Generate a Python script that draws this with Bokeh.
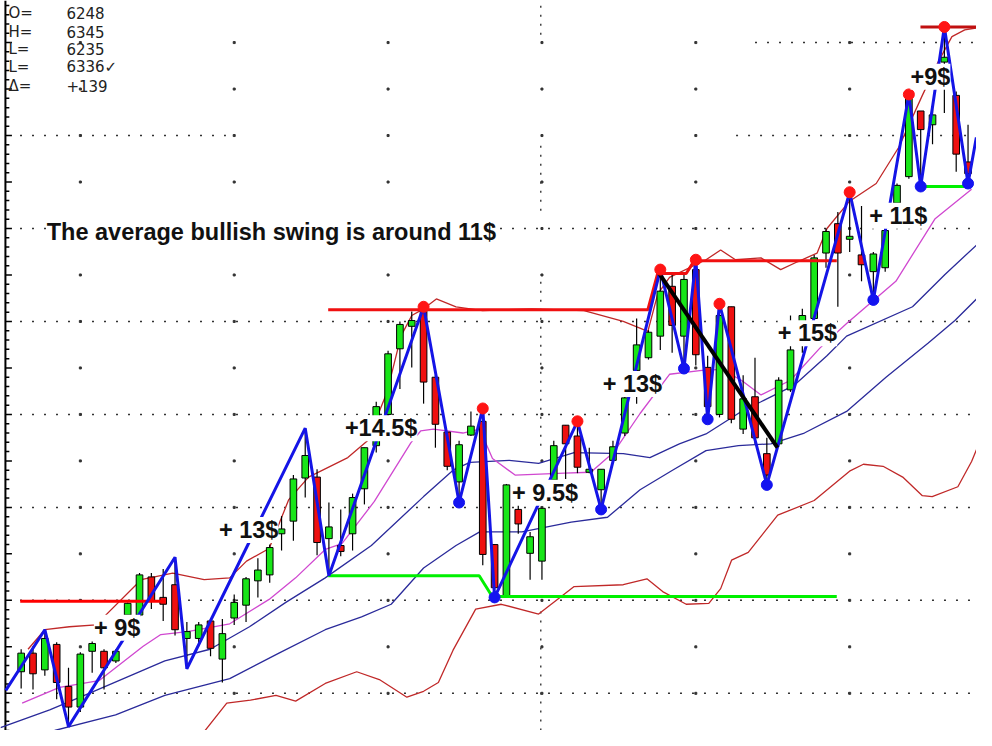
import numpy as np
from bokeh.plotting import figure
from bokeh.models import Range1d, Label
from bokeh.embed import file_html
from bokeh.resources import INLINE

# ---------------- data (bar index 0..80, price in $) ----------------
opens = [41.16, 42.16, 41.26, 42.63, 40.37, 39.26, 42.26, 42.26, 41.74, 44.21,
         44.21, 46.26, 45.16, 45.84, 42.95, 42.95, 43.89, 41.84, 44.05, 44.74,
         46.05, 46.37, 48.58, 49.26, 51.58, 51.63, 48.32, 47.95, 48.58, 51.0,
         53.32, 55.0, 58.53, 59.74, 60.58, 57.0, 54.05, 51.37, 53.89, 54.63,
         48.0, 45.26, 49.89, 47.53, 47.11, 51.47, 54.42, 53.84, 51.89, 50.95,
         52.53, 54.0, 57.37, 58.05, 59.21, 61.89, 59.21, 62.79, 57.53, 55.0,
         60.79, 54.21, 55.95, 52.89, 53.42, 56.32, 59.11, 60.16, 63.68, 65.26,
         64.42, 63.58, 62.68, 62.89, 66.37, 67.79, 71.32, 70.58, 73.95, 72.16,
         68.58]
highs = [42.37, 42.53, 43.42, 42.74, 41.37, 42.21, 42.79, 42.37, 42.37, 44.89,
         46.47, 46.47, 46.68, 47.32, 43.84, 43.84, 44.0, 44.0, 45.32, 46.26,
         47.26, 48.0, 49.53, 51.74, 54.26, 52.05, 50.26, 49.89, 50.74, 53.21,
         55.68, 58.42, 60.0, 60.53, 60.79, 57.11, 54.05, 53.58, 55.16, 55.32,
         48.0, 51.26, 50.68, 48.68, 49.95, 53.58, 54.42, 54.63, 53.21, 52.05,
         53.58, 56.05, 60.16, 59.53, 62.79, 62.53, 62.53, 63.32, 58.16, 60.95,
         60.79, 57.11, 58.05, 53.74, 57.0, 60.32, 60.68, 63.58, 65.0, 65.89,
         66.95, 66.21, 63.74, 65.0, 67.42, 72.21, 71.32, 71.47, 75.84, 72.37,
         70.58]
lows = [40.26, 40.21, 40.95, 39.68, 38.21, 39.0, 41.11, 40.21, 41.63, 44.11,
        44.11, 44.53, 43.89, 43.11, 41.32, 42.53, 42.0, 40.58, 43.68, 43.84,
        45.16, 45.95, 47.68, 48.21, 50.53, 47.42, 46.32, 47.37, 47.68, 50.16,
        52.95, 54.89, 56.37, 57.53, 55.58, 53.21, 52.0, 50.26, 53.84, 46.89,
        45.16, 45.16, 48.58, 46.11, 46.11, 51.47, 51.53, 51.84, 51.84, 49.89,
        52.42, 53.84, 55.58, 57.95, 58.47, 58.32, 57.47, 57.63, 54.74, 54.84,
        54.53, 53.95, 53.42, 51.21, 53.26, 56.21, 58.32, 60.0, 62.89, 60.79,
        63.74, 62.16, 61.16, 62.68, 66.21, 67.68, 67.26, 69.53, 71.21, 68.05,
        67.42]
closes = [42.16, 41.05, 42.95, 40.58, 39.26, 42.11, 42.68, 41.37, 42.26, 44.84,
          46.37, 44.95, 44.79, 43.42, 43.32, 43.68, 42.42, 43.21, 44.89, 46.16,
          46.63, 47.84, 48.84, 51.53, 52.79, 48.11, 48.95, 47.63, 50.53, 53.21,
          55.42, 58.26, 59.84, 60.05, 56.74, 54.47, 52.21, 53.37, 54.37, 47.47,
          45.68, 51.21, 49.11, 48.42, 49.95, 53.32, 53.42, 52.16, 52.05, 52.05,
          53.26, 55.89, 58.74, 59.42, 61.63, 59.79, 62.26, 58.21, 55.42, 60.32,
          54.74, 55.84, 53.74, 51.74, 56.84, 58.47, 60.32, 63.42, 64.84, 63.68,
          64.58, 63.05, 63.63, 64.89, 67.32, 72.0, 70.32, 71.11, 74.21, 69.0,
          67.95]

# upper / lower bands and moving averages (bar position, price)
upper_band_x = [0.58, 2.0, 4.07, 6.32, 10.14, 12.8, 15.46, 17.62, 19.04, 20.95,
                22.61, 24.28, 27.6, 29.26, 30.92, 32.09, 33.0, 34.0, 35.08, 36.74,
                38.99, 43.14, 47.55, 50.87, 52.95, 53.78, 54.78, 57.86, 59.1, 60.35,
                62.51, 64.17, 65.59, 67.25, 68.08, 69.99, 72.24, 74.15, 76.14, 77.47,
                78.64, 79.72, 80.72]
upper_band_y = [42.37, 43.42, 43.58, 43.68, 46.11, 46.47, 46.11, 46.21, 47.11, 47.79,
                50.42, 51.63, 52.68, 53.58, 56.21, 59.21, 60.32, 60.68, 61.21, 60.79,
                60.58, 60.68, 60.58, 60.0, 59.47, 61.47, 62.37, 63.32, 63.84, 63.32,
                63.42, 62.79, 63.21, 63.68, 65.0, 66.47, 67.42, 69.37, 72.16, 73.95,
                75.32, 75.68, 75.79]
lower_band_x = [15.54, 17.37, 19.37, 21.53, 23.19, 25.69, 28.35, 30.26, 32.59, 34.0,
                35.25, 36.49, 38.4, 40.57, 43.72, 46.72, 50.87, 52.87, 54.2, 56.19,
                58.1, 59.1, 60.02, 61.43, 63.92, 67.0, 69.99, 71.16, 72.82, 74.48,
                76.14, 76.97, 79.14, 80.3, 80.72]
lower_band_y = [38.0, 39.47, 39.63, 39.89, 39.58, 40.53, 41.16, 40.74, 39.79, 40.11,
                40.58, 42.32, 44.53, 44.79, 44.26, 45.74, 45.84, 46.16, 45.47, 44.79,
                44.84, 45.63, 47.16, 47.58, 49.58, 50.37, 51.95, 52.32, 52.21, 51.63,
                50.63, 50.58, 51.11, 52.47, 53.11]
ma_fast_x = [0.08, 3.24, 6.57, 10.31, 11.8, 14.05, 17.62, 20.95, 23.19, 25.69,
             27.1, 29.84, 32.92, 33.75, 34.83, 37.32, 38.74, 39.82, 41.73, 45.89,
             48.13, 50.04, 52.29, 54.78, 57.52, 59.19, 60.85, 62.51, 65.0, 67.5,
             69.74, 73.9, 77.22, 80.3]
ma_fast_y = [39.47, 40.32, 40.68, 42.53, 43.16, 43.32, 43.74, 45.05, 46.21, 47.74,
             48.05, 50.32, 53.47, 54.11, 54.21, 54.0, 54.21, 52.63, 51.74, 51.84,
             51.89, 52.95, 55.05, 57.16, 57.37, 57.42, 56.84, 56.05, 56.84, 58.58,
             59.89, 62.16, 65.53, 67.11]
ma_mid_x = [-1.75, 2.41, 5.74, 12.14, 15.96, 19.29, 22.36, 25.69, 29.59, 34.0,
            36.49, 37.91, 41.23, 43.72, 46.72, 50.87, 53.12, 55.61, 57.86, 60.85,
            62.51, 65.34, 68.08, 69.74, 75.31, 78.05, 80.72]
ma_mid_y = [38.16, 39.11, 40.0, 41.74, 42.37, 43.58, 44.89, 46.21, 47.95, 50.58,
            52.0, 52.42, 52.53, 52.37, 52.95, 52.89, 52.68, 53.42, 53.95, 55.16,
            55.68, 56.58, 58.16, 59.21, 60.79, 62.53, 64.11]
ma_slow_x = [2.83, 7.98, 12.14, 17.62, 21.78, 25.69, 28.76, 31.26, 34.0, 36.74,
             38.74, 42.31, 46.47, 49.54, 52.29, 55.03, 57.86, 60.6, 63.34, 66.17,
             69.74, 73.07, 76.64, 78.89, 80.72]
ma_slow_y = [38.0, 38.84, 39.89, 40.79, 42.16, 43.42, 44.11, 44.79, 46.74, 47.95,
             48.68, 48.68, 49.21, 49.47, 50.95, 52.0, 53.05, 53.32, 53.42, 54.0,
             55.16, 57.0, 58.84, 60.05, 61.21]

# zigzag swing pivots
zig_bars = [2, 4, 13, 14, 24, 26, 34, 37, 39, 40, 47, 49, 54, 56, 57, 58, 59, 63,
            70, 72, 75, 76, 78, 80]
zig_kind = ["H", "L"] * 12
zig_start = (-1.3, 40.16)
zig_end = (80.7, 69.9)
dot_high_bars = [34, 39, 47, 54, 57, 59, 70, 75, 78]
dot_low_bars = [37, 40, 49, 56, 58, 63, 72, 76, 80]

# resistance / support / trend lines
res1_x = [-0.08, 12.14]
res1_y = [44.95, 44.95]
res2_x = [25.94, 52.95, 53.78, 56.19, 56.86, 68.91]
res2_y = [60.63, 60.63, 62.58, 62.58, 63.26, 63.26]
res3_x = [75.98, 80.7]
res3_y = [75.84, 75.84]
sup1_x = [25.94, 38.7, 39.8, 68.91]
sup1_y = [46.32, 46.32, 45.21, 45.21]
sup2_x = [76.0, 80.0]
sup2_y = [67.26, 67.26]
trend_x = [53.8, 63.9]
trend_y = [62.68, 53.21]

# texts
swing_labels = ["+ 9$", "+ 13$", "+14.5$", "+ 9.5$", "+ 13$", "+ 15$", "+ 11$", "+9$"]
swing_label_x = [6.15, 16.71, 27.35, 41.48, 49.13, 63.92, 71.65, 75.14]
swing_label_y = [43.53, 48.79, 54.26, 50.79, 56.63, 59.37, 65.68, 73.16]
title_text = "The average bullish swing is around 11$"
header_keys = ["O=", "H=", "L=", "L=", "\u0394="]
header_vals = ["6248", "6345", "6235", "6336\u2713", "+139"]
header_y = [76.58, 75.58, 74.63, 73.68, 72.68]

# ---------------- figure ----------------
X0, X1 = -1.746, 80.715
Y0, Y1 = 38.0, 77.263
p = figure(width=976, height=730, x_range=Range1d(X0, X1), y_range=Range1d(Y0, Y1),
           output_backend="svg", toolbar_location=None, min_border=0,
           x_axis_type=None, y_axis_type=None)
p.xgrid.visible = False
p.ygrid.visible = False
p.outline_line_color = None
p.background_fill_color = "white"
p.border_fill_color = "white"

# dotted horizontal grid
grid_spans = {40: [(-0.1, X1)], 45: [(-0.1, X1)], 50: [(-0.1, X1)], 55: [(-0.1, X1)],
              60: [(-0.1, X1)], 65: [(-0.1, X1)], 70: [(-0.1, 17.3), (60.4, X1)],
              75: [(62.0, X1)]}
gx0, gx1, gy = [], [], []
for lvl, spans in grid_spans.items():
    for a, b in spans:
        gx0.append(a); gx1.append(b); gy.append(lvl)
p.segment(x0=gx0, y0=gy, x1=gx1, y1=gy, line_color="#333333", line_width=1.5,
          line_dash="2 10")
# sparse vertical grid dots
vx = np.arange(5, 81, 13)
vy = np.arange(40, 77, 2.5)
VX, VY = np.meshgrid(vx, vy)
p.scatter(VX.ravel(), VY.ravel(), marker="square", size=2, color="#333333")
# remnant dotted vertical line
vseg = [(75.42, Y1), (65.95, 69.53), (53.32, 62.53), (Y0, 44.63)]
p.segment(x0=[43.9] * 4, y0=[a for a, b in vseg], x1=[43.9] * 4, y1=[b for a, b in vseg],
          line_color="#444444", line_width=1.5, line_dash="2 7")

# left axis
AX = -1.33
p.segment(x0=[AX], y0=[Y0], x1=[AX], y1=[Y1], line_color="black", line_width=2)
ticks = np.arange(38.0, 77.3, 0.5)
major = np.isclose(np.mod(ticks, 2.5), 0)
p.segment(x0=[AX] * len(ticks), y0=ticks,
          x1=np.where(major, AX + 0.55, AX + 0.33), y1=ticks, line_color="black",
          line_width=1.5)

# bands and moving averages
p.line(lower_band_x, lower_band_y, line_color="#C02828", line_width=1.3)
p.line(upper_band_x, upper_band_y, line_color="#C02828", line_width=1.3)
p.line(ma_slow_x, ma_slow_y, line_color="#2A2A9A", line_width=1.3)
p.line(ma_mid_x, ma_mid_y, line_color="#2A2A9A", line_width=1.3)
p.line(ma_fast_x, ma_fast_y, line_color="#D048D0", line_width=1.3)

# candles
bars = np.arange(len(opens))
o = np.array(opens); c = np.array(closes)
up = c >= o
p.segment(x0=bars, y0=highs, x1=bars, y1=lows, line_color="black", line_width=1.2)
p.vbar(x=bars, width=0.56, top=np.maximum(o, c), bottom=np.minimum(o, c),
       fill_color=np.where(up, "#18E618", "#EE1010").tolist(), line_color="black",
       line_width=1)

# support / resistance lines
p.line(res1_x, res1_y, line_color="#FF0000", line_width=3)
p.line(res2_x, res2_y, line_color="#F01010", line_width=3)
p.line(res3_x, res3_y, line_color="#C01010", line_width=3)
p.line(sup1_x, sup1_y, line_color="#00F000", line_width=3)
p.line(sup2_x, sup2_y, line_color="#00F000", line_width=3)

# zigzag
hi = np.array(highs); lo = np.array(lows)
zx = [zig_start[0]] + zig_bars + [zig_end[0]]
zy = ([zig_start[1]] + [hi[b] if k == "H" else lo[b] for b, k in zip(zig_bars, zig_kind)]
      + [zig_end[1]])
p.line(zx, zy, line_color="#1414E6", line_width=3)

# trend line
p.line(trend_x, trend_y, line_color="black", line_width=4)

# swing dots
p.scatter(dot_high_bars, hi[dot_high_bars], size=11, color="#FF1414")
p.scatter(dot_low_bars, lo[dot_low_bars], size=11, color="#1414F0")

# labels
for t, x, y in zip(swing_labels, swing_label_x, swing_label_y):
    p.add_layout(Label(x=x, y=y, text=t, text_font="Liberation Sans",
                       text_font_style="bold", text_font_size="23.5px",
                       text_color="#111111", text_baseline="middle", text_align="left",
                       background_fill_color="white", background_fill_alpha=1.0))
p.add_layout(Label(x=2.16, y=64.79, text=title_text, text_font="Liberation Sans",
                   text_font_style="bold", text_font_size="23.5px", text_color="#111111",
                   text_baseline="middle", text_align="left",
                   background_fill_color="white", background_fill_alpha=1.0))
for k, v, yy in zip(header_keys, header_vals, header_y):
    p.add_layout(Label(x=-1.08, y=yy, text=k, text_font="DejaVu Sans",
                       text_font_size="15px", text_color="#222222",
                       text_baseline="middle"))
    p.add_layout(Label(x=3.82, y=yy, text=v, text_font="DejaVu Sans",
                       text_font_size="15px", text_color="#222222",
                       text_baseline="middle"))

open("out.html", "w").write(file_html(p, INLINE))
